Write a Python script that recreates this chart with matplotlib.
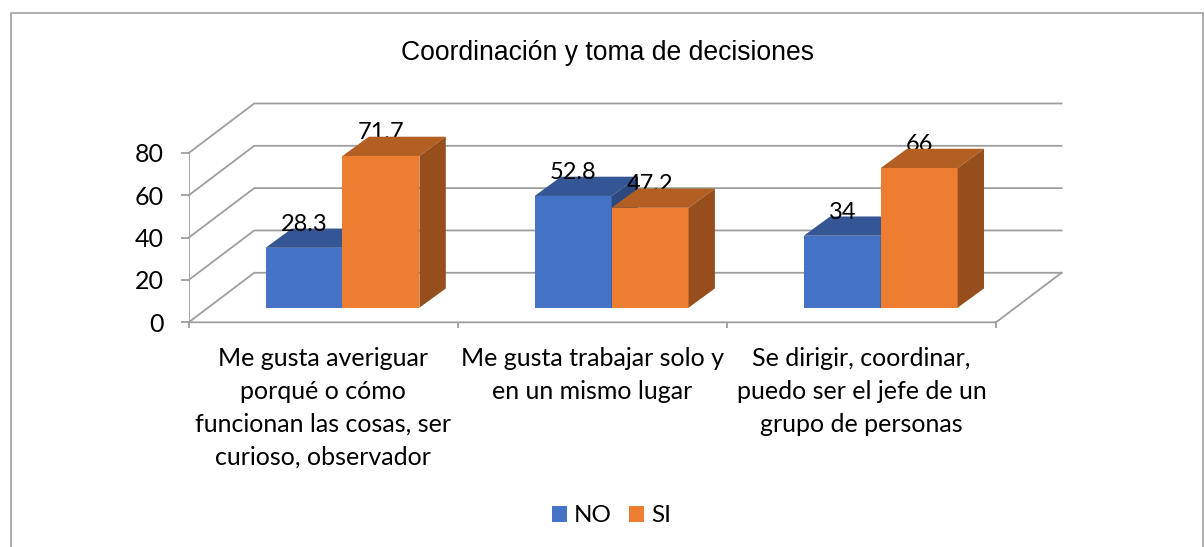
import matplotlib
matplotlib.use("Agg")
import matplotlib.pyplot as plt
from matplotlib.lines import Line2D
from matplotlib.patches import Patch, Polygon

# data
categories = [
    "Me gusta averiguar\nporqué o cómo\nfuncionan las cosas, ser\ncurioso, observador",
    "Me gusta trabajar solo y\nen un mismo lugar",
    "Se dirigir, coordinar,\npuedo ser el jefe de un\ngrupo de personas",
]
no_values = [28.3, 52.8, 34]
si_values = [71.7, 47.2, 66]
no_labels = ["28.3", "52.8", "34"]
si_labels = ["71.7", "47.2", "66"]
y_ticks = [0, 20, 40, 60, 80]

W, H = 1204, 547
GRID = "#9e9e9e"
UI_FONT = "Lato"

# depth of the fake 3D box, in data units (x = categories, y = value)
WALL_DX, WALL_DY = 0.2435, 23.4
BAR_DX, BAR_DY = 0.098, 9.1
BAR_BASE_DX, BAR_BASE_DY = 0.0715, 6.9
BAR_W = 0.286


def draw_bar(ax, left, value, front, top, side, z):
    x0 = left + BAR_BASE_DX
    x1 = x0 + BAR_W
    y0 = BAR_BASE_DY
    y1 = y0 + value
    ax.add_patch(Polygon([(x0, y0), (x1, y0), (x1, y1), (x0, y1)], fc=front, ec="none", zorder=z, clip_on=False))
    ax.add_patch(Polygon([(x0, y1), (x1, y1), (x1 + BAR_DX, y1 + BAR_DY), (x0 + BAR_DX, y1 + BAR_DY)],
                         fc=top, ec="none", zorder=z, clip_on=False))
    ax.add_patch(Polygon([(x1, y0), (x1 + BAR_DX, y0 + BAR_DY), (x1 + BAR_DX, y1 + BAR_DY), (x1, y1)],
                         fc=side, ec="none", zorder=z, clip_on=False))
    return (x0 + x1) / 2, y1


fig = plt.figure(figsize=(W / 100, H / 100), dpi=100)
ax = fig.add_axes([188.7 / W, 1 - 322.3 / H, (996 - 188.7) / W, (322.3 - 153) / H])
ax.set_xlim(0, 3)
ax.set_ylim(0, 80)
for s in ax.spines.values():
    s.set_visible(False)

# walls and floor
for v in y_ticks:
    ax.plot([0, WALL_DX, 3 + WALL_DX], [v, v + WALL_DY, v + WALL_DY], color=GRID, lw=1.3, clip_on=False, zorder=1)
ax.plot([0, 0], [0, 80], color=GRID, lw=1.3, zorder=1)
ax.plot([0, 3, 3 + WALL_DX], [0, 0, WALL_DY], color=GRID, lw=1.3, clip_on=False, zorder=1)

# bars
for i in range(3):
    left = i + 0.5 - BAR_W
    cx, ty = draw_bar(ax, left, no_values[i], "#4472c4", "#345694", "#2c4a80", 3)
    ax.text(cx, ty + 8.0, no_labels[i], ha="center", va="baseline", fontsize=17, family=UI_FONT, zorder=4)
    cx, ty = draw_bar(ax, left + BAR_W, si_values[i], "#ed7d31", "#b35e22", "#964f1c", 5)
    ax.text(cx, ty + 8.0, si_labels[i], ha="center", va="baseline", fontsize=17, family=UI_FONT, zorder=4)

# axes
ax.set_yticks(y_ticks)
ax.set_yticklabels([str(v) for v in y_ticks], fontsize=18, family=UI_FONT)
ax.tick_params(axis="y", length=5.5, width=1.3, color=GRID, pad=12.5)
ax.set_xticks([0, 1, 2, 3])
ax.set_xticklabels([])
ax.tick_params(axis="x", which="major", length=4.5, width=1.3, color=GRID)
ax.set_xticks([0.5, 1.5, 2.5], minor=True)
ax.set_xticklabels(categories, minor=True, fontsize=18, family=UI_FONT, linespacing=1.53, ha="center", va="top")
ax.tick_params(axis="x", which="minor", length=0, pad=17.5)

fig.text(607 / W, 1 - 53.5 / H, "Coordinación y toma de decisiones", ha="center", va="center",
         fontsize=19.1, family="Liberation Sans")

handles = [Patch(fc="#4472c4", label="NO"), Patch(fc="#ed7d31", label="SI")]
fig.legend(handles=handles, loc="center", bbox_to_anchor=(611.5 / W, 1 - 516 / H), ncol=2, frameon=False,
           prop={"family": UI_FONT, "size": 17.5}, handlelength=0.62, handleheight=0.62, handletextpad=0.3,
           columnspacing=0.7, borderpad=0)

# outer chart border, runs off the bottom of the picture
fig.add_artist(Line2D([11 / W, 11 / W, 1203 / W, 1203 / W], [0, 1 - 13 / H, 1 - 13 / H, 0],
                      transform=fig.transFigure, color="#a0a0a0", lw=1.2))

fig.savefig("out.png", dpi=100)
